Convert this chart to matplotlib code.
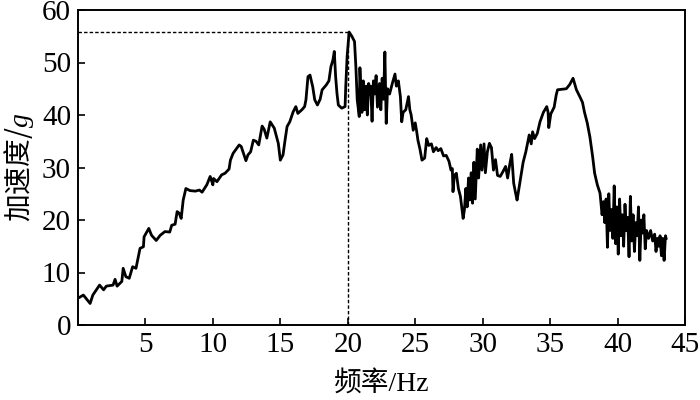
import matplotlib
matplotlib.use("Agg")
import matplotlib.pyplot as plt

plt.rcParams['font.family'] = ['Liberation Serif', 'Noto Sans CJK SC']
plt.rcParams['mathtext.fontset'] = 'custom'
plt.rcParams['mathtext.rm'] = 'Noto Sans CJK SC'
plt.rcParams['mathtext.it'] = 'Liberation Serif:italic'

freq = [0.0, 0.4, 0.9, 1.1, 1.6, 1.9, 2.1, 2.6, 2.75, 2.9, 3.25, 3.35, 3.55, 3.8,
        4.05, 4.3, 4.6, 4.85, 4.9, 5.25, 5.45, 5.8, 6.1, 6.45, 6.8, 6.95, 7.2,
        7.35, 7.5, 7.65, 7.8, 8.0, 8.3, 8.7, 9.0, 9.2, 9.55, 9.8, 10.0, 10.05,
        10.3, 10.65, 10.9, 11.2, 11.3, 11.5, 11.95, 12.1, 12.45, 12.6, 12.8, 13.0,
        13.2, 13.4, 13.65, 13.8, 14.0, 14.25, 14.55, 14.85, 15.0, 15.2, 15.35,
        15.5, 15.7, 15.95, 16.15, 16.3, 16.6, 16.8, 16.9, 17.05, 17.2, 17.4,
        17.55, 17.75, 17.95, 18.1, 18.4, 18.6, 18.75, 18.9, 19.0, 19.1, 19.2,
        19.3, 19.55, 19.8, 19.85, 19.95, 20.1, 20.3, 20.5, 20.6, 20.7,
        20.85, 20.9, 21.0, 21.05, 21.15, 21.25, 21.35, 21.45, 21.55, 21.6, 21.7,
        21.8, 21.9, 22.0, 22.1, 22.2, 22.35, 22.45, 22.55, 22.65, 22.75, 22.85,
        22.95, 23.1, 23.3, 23.5, 23.6, 23.75, 23.9, 24.0, 24.1, 24.3, 24.5, 24.6,
        24.7, 24.85, 25.0, 25.1, 25.2, 25.35, 25.5, 25.7, 25.85, 26.0, 26.2,
        26.35, 26.55, 26.7, 26.9, 27.1, 27.3, 27.5, 27.65, 27.75, 27.8, 27.9,
        28.05, 28.2, 28.35, 28.55, 28.65, 28.75, 28.85, 28.95, 29.05, 29.15,
        29.25, 29.35, 29.45, 29.6, 29.7, 29.85, 29.95, 30.1, 30.2, 30.35, 30.5,
        30.65, 30.8, 30.95, 31.1, 31.3, 31.5, 31.7, 31.85, 32.0, 32.15, 32.3,
        32.45, 32.55, 32.75, 33.0, 33.2, 33.45, 33.6, 33.7, 33.85, 34.05, 34.25,
        34.5, 34.75, 34.85, 34.9, 35.05, 35.3, 35.45, 35.55, 35.85, 36.2, 36.45,
        36.7, 36.95, 37.2, 37.4, 37.55, 37.75, 37.95, 38.15, 38.3, 38.5, 38.7,
        38.85, 38.95, 39.05, 39.15, 39.25, 39.35, 39.45, 39.55, 39.65, 39.75,
        39.85, 39.95, 40.05, 40.15, 40.25, 40.35, 40.45, 40.55, 40.65, 40.75,
        40.85, 40.95, 41.05, 41.15, 41.25, 41.35, 41.45, 41.55, 41.65, 41.75,
        41.85, 41.95, 42.05, 42.15, 42.3, 42.45, 42.6, 42.75, 42.85, 42.95,
        43.05, 43.15, 43.25, 43.35, 43.45, 43.55, 43.6]

accel = [5.1, 5.7, 4.1, 5.7, 7.6, 6.7, 7.4, 7.6, 8.7, 7.4, 8.3, 10.8, 9.2, 8.9,
         11.1, 10.8, 14.6, 14.9, 16.8, 18.4, 17.1, 16.1, 17.1, 17.8, 17.7, 19.0,
         19.2, 21.6, 21.3, 20.3, 23.8, 26.0, 25.6, 25.5, 25.7, 25.3, 26.7, 28.3,
         26.7, 27.9, 27.3, 28.6, 28.9, 29.7, 31.4, 32.7, 34.3, 34.0, 31.3, 32.4,
         33.0, 35.2, 35.0, 34.3, 37.9, 37.3, 35.6, 38.7, 37.5, 34.6, 31.4, 32.4,
         35.2, 37.8, 38.7, 40.6, 41.6, 40.3, 41.0, 41.6, 42.9, 47.3, 47.6, 45.4,
         42.9, 41.9, 43.0, 44.8, 45.7, 46.5, 49.2, 50.5, 52.1, 47.3, 44.1, 41.9,
         41.3, 41.6, 45.4, 51.1, 55.8, 55.0, 54.0, 49.2, 42.9,
         39.7, 49.0, 43.0, 40.5, 46.5, 41.0, 45.5, 40.0, 46.0, 44.0, 45.5,
         38.8, 46.5, 44.0, 47.5, 41.5, 46.0, 41.0, 47.0, 43.0, 52.0, 38.4,
         45.0, 44.0, 46.0, 47.8, 45.5, 46.5, 43.5, 38.7, 40.5, 41.0, 43.5, 41.0,
         40.0, 37.1, 38.5, 37.0, 35.2, 33.5, 31.4, 31.8, 35.5, 34.2, 34.5,
         33.0, 33.8, 33.2, 33.6, 32.2, 32.3, 31.2, 29.5, 29.8, 25.4, 28.5,
         28.9, 26.0, 24.5, 20.3, 22.0, 26.0, 22.5, 28.0, 23.8, 29.0,
         23.2, 31.0, 24.0, 33.5, 28.0, 34.3, 29.5, 34.5, 29.0, 33.0, 34.6,
         33.8, 29.5, 31.5, 28.5, 28.3, 29.2, 30.2, 28.0, 30.5, 32.5, 27.0,
         25.0, 23.8, 27.0, 31.0, 33.0, 36.2, 34.5, 36.8, 35.5, 36.5, 38.7,
         40.5, 41.6, 40.5, 37.6, 40.2, 41.5, 43.8, 44.8, 44.9, 45.0, 45.8,
         47.0, 44.8, 43.5, 42.4, 40.5, 38.5, 35.8, 32.1, 28.9, 26.7, 25.1,
         21.0, 23.5, 19.5, 24.0, 14.8, 25.0, 18.0, 22.0, 16.5, 26.5,
         15.5, 22.5, 13.5, 24.0, 17.0, 21.0, 15.0, 23.0, 18.0, 20.5,
         13.0, 24.5, 16.0, 21.0, 14.0, 19.5, 17.0, 22.5, 12.3, 20.0,
         17.5, 21.0, 14.5, 18.0, 16.5, 18.0, 16.0, 17.3, 14.0, 16.5,
         15.0, 17.0, 13.2, 16.5, 12.3, 17.0, 16.5]

peak_f = 20.0
peak_a = 55.8

fig = plt.figure(figsize=(7, 4), dpi=100)
ax = fig.add_axes([0.1114, 0.1875, 0.8672, 0.7875])

ax.plot(freq, accel, color='black', linewidth=2.0)
ax.plot([0, peak_f], [peak_a, peak_a], color='black', linestyle=(0, (2.5, 1.5)), linewidth=1.0)
ax.plot([peak_f, peak_f], [0, peak_a], color='black', linestyle=(0, (2.5, 1.5)), linewidth=1.0)

ax.set_xlim(0, 45)
ax.set_ylim(0, 60)
ax.set_xticks([5, 10, 15, 20, 25, 30, 35, 40, 45])
ax.set_yticks([0, 10, 20, 30, 40, 50, 60])
ax.tick_params(direction='in', length=5, width=1.2, labelsize=21, pad=5)
for s in ax.spines.values():
    s.set_linewidth(1.4)

ax.set_xlabel('频率/Hz', fontsize=20, labelpad=9)
ax.set_ylabel(r'$\mathrm{加速度/}g$', fontsize=20, labelpad=4)

fig.savefig('out.png', dpi=100)
